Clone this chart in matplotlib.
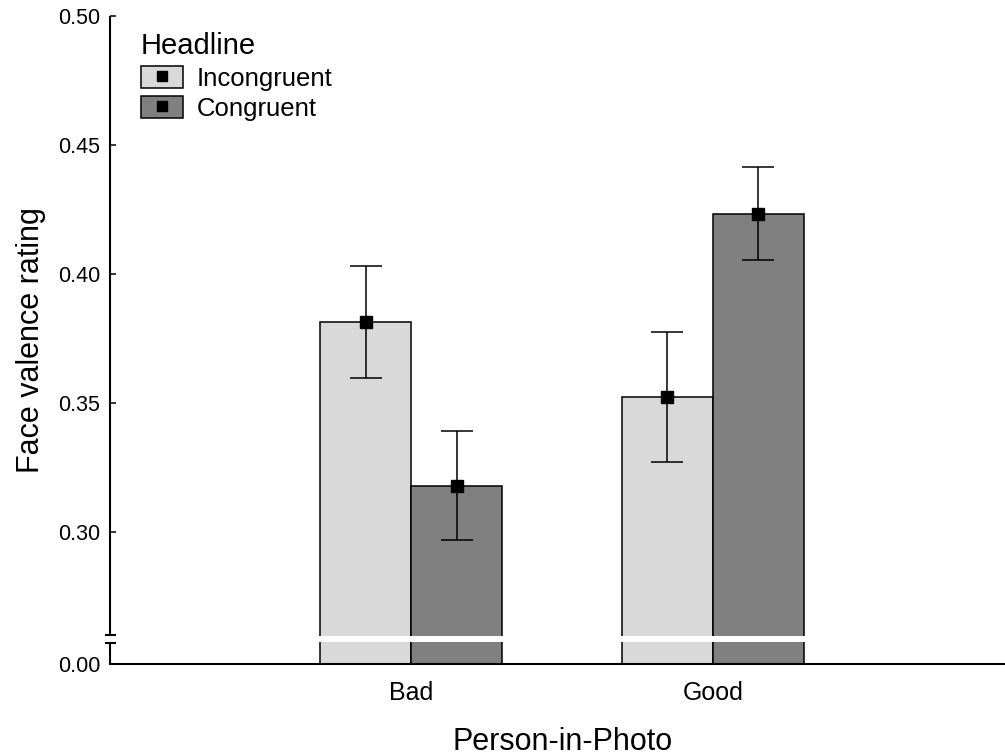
import numpy as np
import matplotlib
matplotlib.use("Agg")
import matplotlib.pyplot as plt
from matplotlib.patches import Patch, Rectangle
from matplotlib.lines import Line2D
from matplotlib.legend_handler import HandlerTuple

plt.rcParams['font.family'] = ['Liberation Sans', 'DejaVu Sans']

# data
persons = ['Bad', 'Good']
headlines = ['Incongruent', 'Congruent']
means = {
    'Incongruent': [0.3813, 0.3523],
    'Congruent':   [0.3180, 0.4234],
}
errors = {
    'Incongruent': [0.0218, 0.0253],
    'Congruent':   [0.0213, 0.0180],
}
colors = {'Incongruent': '#d9d9d9', 'Congruent': '#808080'}
yticks = [0.0, 0.30, 0.35, 0.40, 0.45, 0.50]

# broken y axis: everything below BRK gets squeezed into a thin band
BRK = 0.2585
SQ = 0.0375


def fwd(v):
    v = np.asarray(v, dtype=float)
    return np.where(v >= BRK, v, BRK - SQ * (BRK - v))


def inv(u):
    u = np.asarray(u, dtype=float)
    return np.where(u >= BRK, u, BRK - (BRK - u) / SQ)


fig = plt.figure(figsize=(10.05, 7.55), dpi=100)
ax = fig.add_axes([110 / 1005, 91 / 755, 895 / 1005, 648 / 755])
ax.set_yscale('function', functions=(fwd, inv))

x = np.arange(len(persons))
w = 0.302
offs = {'Incongruent': -w / 2, 'Congruent': w / 2}
for h in headlines:
    ax.bar(x + offs[h], means[h], width=w, color=colors[h],
           edgecolor='black', linewidth=1.1, zorder=2)
    ax.errorbar(x + offs[h], means[h], yerr=errors[h], fmt='s', color='black',
                markersize=8, elinewidth=1.1, capsize=11.5, capthick=1.1, zorder=3)

ax.set_ylim(0, 0.5)
ax.set_xlim(-1.0, 1.97)

# white gap through the bars at the break
gap_lo, gap_hi = (664 - 642) / 648, (664 - 636) / 648
ax.add_patch(Rectangle((0.002, gap_lo), 1, gap_hi - gap_lo, transform=ax.transAxes,
                       facecolor='white', edgecolor='none', zorder=5, clip_on=False))

# spines
for s in ['top', 'right']:
    ax.spines[s].set_visible(False)
ax.spines['bottom'].set_linewidth(1.5)
ax.spines['left'].set_visible(False)
brk_top, brk_bot = (664 - 635) / 648, (664 - 643) / 648
dx = 5.5 / 895
ax.plot([0, 0], [brk_top, 1], color='black', lw=1.5, transform=ax.transAxes,
        clip_on=False, zorder=6, solid_capstyle='butt')
ax.plot([0, 0], [0, brk_bot], color='black', lw=1.5, transform=ax.transAxes,
        clip_on=False, zorder=6, solid_capstyle='butt')
for yy in (brk_top, brk_bot):
    ax.plot([-dx, dx], [yy, yy], color='black', lw=1.5, transform=ax.transAxes,
            clip_on=False, zorder=6, solid_capstyle='butt')

ax.set_yticks(yticks)
ax.set_yticklabels(['%.2f' % t for t in yticks])
ax.tick_params(axis='y', direction='in', length=4.5, width=1.1, labelsize=15.5, pad=7)
ax.set_xticks(x)
ax.set_xticklabels(persons)
ax.tick_params(axis='x', length=0, labelsize=18, pad=12.5)

ax.set_ylabel('Face valence rating', fontsize=22)
ax.set_xlabel('Person-in-Photo', fontsize=22)
ax.yaxis.set_label_coords(-0.0715, 0.5)
ax.xaxis.set_label_coords(0.5056, -0.0965)

handles = [(Patch(facecolor=colors[h], edgecolor='black', linewidth=1.1),
            Line2D([], [], marker='s', color='black', linestyle='none', markersize=7))
           for h in headlines]
leg = fig.legend(handles, headlines, title='Headline', loc='upper left',
                 bbox_to_anchor=(141 / 1005, 1 - 32 / 755), frameon=False,
                 fontsize=18.5, title_fontsize=21, alignment='left',
                 handler_map={tuple: HandlerTuple(ndivide=1, pad=0)},
                 handlelength=1.63, handleheight=0.95, handletextpad=0.55,
                 labelspacing=0.22, borderaxespad=0, borderpad=0)

fig.savefig('out.png', dpi=100)
